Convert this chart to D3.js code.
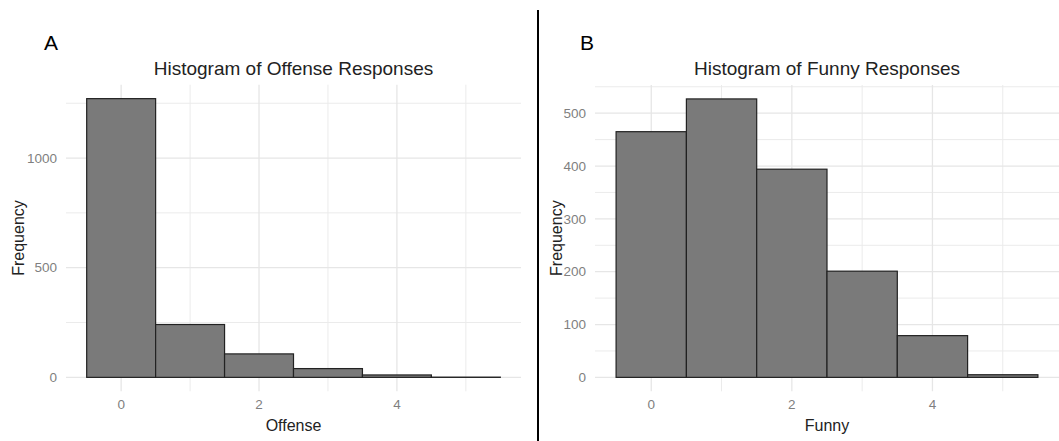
<!DOCTYPE html>
<html>
<head>
<meta charset="utf-8">
<script src="https://cdn.jsdelivr.net/npm/d3@7"></script>
<style>
  body { margin: 0; background: #fff; }
  text { font-family: "Liberation Sans", Arial, sans-serif; }
</style>
</head>
<body>
<div id="chart"></div>
<script>
// bin centres and counts
var bins = [0, 1, 2, 3, 4, 5];
var offenseCounts = [1271, 241, 107, 40, 11, 1];
var funnyCounts = [465, 527, 394, 201, 79, 5];
var offenseTicks = [0, 500, 1000];
var funnyTicks = [0, 100, 200, 300, 400, 500];
var xTicks = [0, 2, 4];

var width = 1059, height = 441;

var svg = d3.select("#chart")
  .append("svg")
  .attr("width", width)
  .attr("height", height);

// divider between the two panels
svg.append("line")
  .attr("x1", 538).attr("x2", 538)
  .attr("y1", 10).attr("y2", height)
  .attr("stroke", "#000")
  .attr("stroke-width", 2);

function drawPanel(opt) {
  var g = svg.append("g");
  var maxY = d3.max(opt.counts);
  var x = d3.scaleLinear().domain([-0.8, 5.8]).range([opt.left, opt.right]);
  var y = d3.scaleLinear().domain([-0.05 * maxY, 1.05 * maxY]).range([391.3, opt.top]);

  // minor grid
  var yMinor = [];
  for (var i = 0; i < opt.yTicks.length - 1; i++) yMinor.push((opt.yTicks[i] + opt.yTicks[i + 1]) / 2);
  var last = opt.yTicks[opt.yTicks.length - 1], step = opt.yTicks[1] - opt.yTicks[0];
  if (last + step / 2 < 1.05 * maxY) yMinor.push(last + step / 2);

  g.selectAll(".ymin").data(yMinor).enter().append("line")
    .attr("x1", opt.left).attr("x2", opt.right)
    .attr("y1", d => y(d)).attr("y2", d => y(d))
    .attr("stroke", "#ebebeb").attr("stroke-width", 1);
  g.selectAll(".xmin").data([1, 3, 5]).enter().append("line")
    .attr("x1", d => x(d)).attr("x2", d => x(d))
    .attr("y1", y.range()[1]).attr("y2", y.range()[0])
    .attr("stroke", "#ebebeb").attr("stroke-width", 1);
  // major grid
  g.selectAll(".ymaj").data(opt.yTicks).enter().append("line")
    .attr("x1", opt.left).attr("x2", opt.right)
    .attr("y1", d => y(d)).attr("y2", d => y(d))
    .attr("stroke", "#e6e6e6").attr("stroke-width", 1.3);
  g.selectAll(".xmaj").data(xTicks).enter().append("line")
    .attr("x1", d => x(d)).attr("x2", d => x(d))
    .attr("y1", y.range()[1]).attr("y2", y.range()[0])
    .attr("stroke", "#e6e6e6").attr("stroke-width", 1.3);

  // bars
  g.selectAll(".bar").data(bins).enter().append("rect")
    .attr("x", d => x(d - 0.5))
    .attr("width", d => x(d + 0.5) - x(d - 0.5))
    .attr("y", (d, i) => y(opt.counts[i]))
    .attr("height", (d, i) => y(0) - y(opt.counts[i]))
    .attr("fill", "#7a7a7a")
    .attr("stroke", "#222")
    .attr("stroke-width", 1.2);

  // tick labels
  g.selectAll(".yl").data(opt.yTicks).enter().append("text")
    .attr("x", opt.left - 9).attr("y", d => y(d))
    .attr("dy", "0.35em").attr("text-anchor", "end")
    .attr("font-size", 13.5).attr("fill", "#7f7f7f")
    .text(d => d);
  g.selectAll(".xl").data(xTicks).enter().append("text")
    .attr("x", d => x(d)).attr("y", 409)
    .attr("text-anchor", "middle")
    .attr("font-size", 13.5).attr("fill", "#7f7f7f")
    .text(d => d);

  var cx = (opt.left + opt.right) / 2;
  g.append("text")
    .attr("x", cx).attr("y", 431)
    .attr("text-anchor", "middle").attr("font-size", 16).attr("fill", "#222")
    .text(opt.xLabel);
  g.append("text")
    .attr("transform", "translate(" + opt.yLabelX + "," + ((opt.top + 391.3) / 2) + ") rotate(-90)")
    .attr("text-anchor", "middle").attr("font-size", 16).attr("fill", "#222")
    .text("Frequency");
  g.append("text")
    .attr("x", cx).attr("y", 75)
    .attr("text-anchor", "middle").attr("font-size", 19).attr("fill", "#222")
    .text(opt.title);
  g.append("text")
    .attr("x", opt.tagX).attr("y", 50)
    .attr("font-size", 21).attr("fill", "#000")
    .text(opt.tag);
}

drawPanel({
  counts: offenseCounts, yTicks: offenseTicks,
  left: 66, right: 521, top: 84.7,
  title: "Histogram of Offense Responses", xLabel: "Offense",
  yLabelX: 24, tag: "A", tagX: 44
});
drawPanel({
  counts: funnyCounts, yTicks: funnyTicks,
  left: 595, right: 1059, top: 85,
  title: "Histogram of Funny Responses", xLabel: "Funny",
  yLabelX: 562, tag: "B", tagX: 580
});
</script>
</body>
</html>
